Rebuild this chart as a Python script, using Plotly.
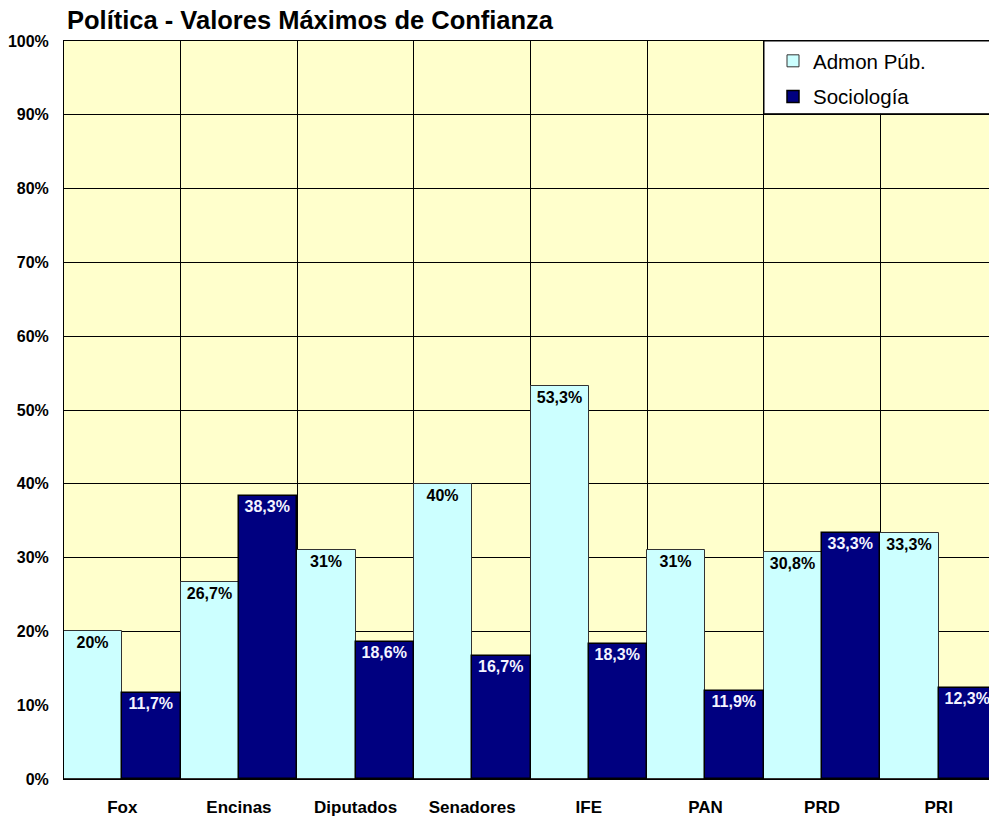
import plotly.graph_objects as go

categories = ["Fox", "Encinas", "Diputados", "Senadores", "IFE", "PAN", "PRD", "PRI"]
admon = [20, 26.7, 31, 40, 53.3, 31, 30.8, 33.3]
socio = [11.7, 38.3, 18.6, 16.7, 18.3, 11.9, 33.3, 12.3]
y_ticks = [0, 10, 20, 30, 40, 50, 60, 70, 80, 90, 100]
y_labels = [f"{v}%" for v in y_ticks]
series_names = ["Admon Púb.", "Sociología"]


def fmt(v):
    return f"{v:g}".replace(".", ",") + "%"


FONT = "Arial, Liberation Sans, sans-serif"

fig = go.Figure()
fig.add_trace(go.Bar(
    name=series_names[0], x=categories, y=admon,
    text=[fmt(v) for v in admon], textposition="inside", insidetextanchor="end",
    textangle=0, constraintext="none",
    textfont=dict(family=FONT, size=16, color="#000000", weight="bold"),
    marker=dict(color="#CCFFFF", line=dict(color="#333333", width=1)),
    legendgroup="a", cliponaxis=False,
))
fig.add_trace(go.Bar(
    name=series_names[1], x=categories, y=socio,
    text=[fmt(v) for v in socio], textposition="inside", insidetextanchor="end",
    textangle=0, constraintext="none",
    textfont=dict(family=FONT, size=16, color="#F4F4FF", weight="bold"),
    marker=dict(color="#000080", line=dict(color="#000000", width=1.5)),
    legendgroup="b", cliponaxis=False,
))

# legend frame (extends past the right edge, as in the reference)
fig.add_shape(type="rect", xref="paper", yref="paper",
              x0=(764 - 64) / 925, x1=1.05, y0=0.9015, y1=1.0,
              fillcolor="white", line=dict(color="#000000", width=1), layer="above")

fig.update_layout(
    width=989, height=817,
    margin=dict(l=64, r=0, t=41, b=38, autoexpand=False),
    paper_bgcolor="white", plot_bgcolor="#FFFFCC",
    barmode="group", bargap=0, bargroupgap=0,
    title=dict(text="<b>Política - Valores Máximos de Confianza</b>",
               font=dict(family=FONT, size=25.5, color="#000000"),
               x=67 / 989, xanchor="left", xref="container",
               y=1 - 20 / 817, yanchor="middle", yref="container"),
    legend=dict(x=(773 - 64) / 925, xanchor="left", y=1, yanchor="top",
                bgcolor="rgba(0,0,0,0)", borderwidth=0,
                font=dict(family=FONT, size=20.5, color="#000000"),
                tracegroupgap=6),
    xaxis=dict(range=[-0.5, 7.5 - 8 / 116.6], tickson="boundaries",
               showgrid=True, gridcolor="#000000", gridwidth=1,
               showline=True, linecolor="#000000", linewidth=1, mirror=True,
               ticks="", ticklabelstandoff=13, automargin=False,
               tickfont=dict(family=FONT, size=17, color="#000000", weight="bold")),
    yaxis=dict(range=[0, 100], tickvals=y_ticks, ticktext=y_labels,
               showgrid=True, gridcolor="#000000", gridwidth=1,
               showline=True, linecolor="#000000", linewidth=1,
               zeroline=False, ticks="", ticklabelstandoff=11, automargin=False,
               tickfont=dict(family=FONT, size=16, color="#000000", weight="bold")),
)

fig.write_html("out.html", config={"displayModeBar": False},
               post_script="document.body.style.margin='0';document.body.style.overflow='hidden';")
